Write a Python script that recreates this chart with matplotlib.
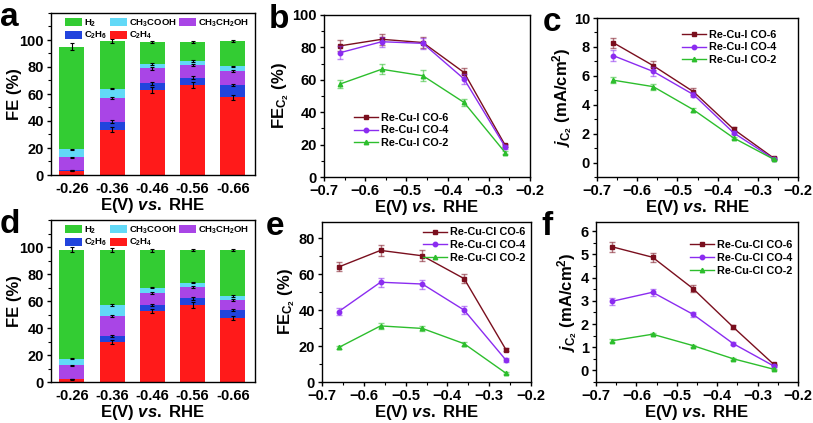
import matplotlib
matplotlib.use('Agg')
import matplotlib.pyplot as plt
import numpy as np
from matplotlib.ticker import MultipleLocator

plt.rcParams['font.family'] = ['Liberation Sans', 'DejaVu Sans']
plt.rcParams['font.weight'] = 'bold'
plt.rcParams['mathtext.fontset'] = 'custom'
plt.rcParams['mathtext.rm'] = 'Liberation Sans:bold'
plt.rcParams['mathtext.bf'] = 'Liberation Sans:bold'
plt.rcParams['mathtext.it'] = 'Liberation Sans:bold:italic'
plt.rcParams['mathtext.default'] = 'bf'

# ---- bar data (FE %, per product) ----
potentials = ['-0.26', '-0.36', '-0.46', '-0.56', '-0.66']
products = ['C$_2$H$_4$', 'C$_2$H$_6$', 'CH$_3$CH$_2$OH', 'CH$_3$COOH', 'H$_2$']

fe_a_c2h4 = [3.2, 33.5, 63.0, 66.7, 57.5]
fe_a_c2h6 = [0.2, 6.0, 5.0, 5.3, 9.2]
fe_a_etoh = [9.8, 17.5, 11.0, 9.5, 10.3]
fe_a_acoh = [5.8, 7.0, 3.5, 2.9, 3.5]
fe_a_h2 = [76.0, 35.0, 16.3, 14.2, 18.8]
err_a = [[0.5, 2.0, 2.0, 2.5, 2.0],
         [0.3, 1.0, 1.0, 1.0, 1.0],
         [0.5, 1.0, 1.0, 1.0, 0.8],
         [0.4, 0.5, 0.8, 0.8, 0.5],
         [2.5, 1.5, 0.8, 0.6, 1.0]]

fe_d_c2h4 = [2.0, 29.5, 52.7, 57.0, 47.5]
fe_d_c2h6 = [0.2, 4.5, 4.3, 5.0, 5.9]
fe_d_etoh = [10.1, 15.0, 9.0, 8.5, 7.6]
fe_d_acoh = [5.0, 8.0, 4.0, 3.0, 2.7]
fe_d_h2 = [80.7, 41.0, 27.5, 24.3, 34.1]
err_d = [[0.5, 1.5, 1.5, 2.0, 1.5],
         [0.3, 1.0, 1.0, 1.0, 1.0],
         [0.5, 0.8, 0.8, 0.8, 0.8],
         [0.4, 0.5, 0.5, 0.5, 0.5],
         [2.0, 1.5, 1.0, 1.0, 1.0]]

bar_colors = ['#FF1A1A', '#2244DD', '#A945E6', '#62D9F7', '#33CC33']

# ---- line data ----
volts = [-0.66, -0.56, -0.46, -0.36, -0.26]
names_i = ['Re-Cu-I CO-6', 'Re-Cu-I CO-4', 'Re-Cu-I CO-2']
names_cl = ['Re-Cu-Cl CO-6', 'Re-Cu-Cl CO-4', 'Re-Cu-Cl CO-2']

fe_i = [[81.0, 85.0, 83.0, 64.5, 19.5],
        [76.8, 83.5, 82.5, 60.5, 18.5],
        [57.5, 66.5, 62.5, 46.0, 15.0]]
fe_i_err = [[3.5, 3.5, 3.5, 3.0, 1.0],
            [4.0, 3.0, 3.5, 3.0, 1.0],
            [2.5, 3.0, 3.5, 2.0, 1.0]]
j_i = [[8.3, 6.7, 4.9, 2.3, 0.30],
       [7.4, 6.3, 4.7, 2.05, 0.25],
       [5.7, 5.25, 3.65, 1.7, 0.22]]
j_i_err = [[0.35, 0.3, 0.25, 0.15, 0.05],
           [0.4, 0.3, 0.2, 0.1, 0.05],
           [0.2, 0.2, 0.15, 0.1, 0.05]]
fe_cl = [[64.0, 73.2, 70.2, 57.5, 18.0],
         [39.2, 55.5, 54.5, 40.0, 12.2],
         [19.2, 31.2, 29.8, 21.3, 4.9]]
fe_cl_err = [[2.5, 3.0, 3.0, 2.5, 1.0],
             [2.0, 2.5, 2.5, 2.0, 1.0],
             [1.0, 1.5, 1.5, 1.0, 0.5]]
j_cl = [[5.33, 4.88, 3.53, 1.86, 0.26],
        [2.98, 3.37, 2.42, 1.15, 0.19],
        [1.28, 1.56, 1.07, 0.50, 0.05]]
j_cl_err = [[0.22, 0.2, 0.14, 0.08, 0.03],
            [0.15, 0.15, 0.1, 0.06, 0.03],
            [0.07, 0.05, 0.04, 0.03, 0.02]]

line_colors = ['#7A0F1E', '#8B2CF0', '#2DBE2D']
markers = ['s', 'o', '^']

W, H = 813, 423
fig = plt.figure(figsize=(W / 100, H / 100), dpi=100)


def box(l, t, r, b):
    return [l / W, 1 - b / H, (r - l) / W, (b - t) / H]


def style_axes(ax):
    for s in ax.spines.values():
        s.set_linewidth(1.0)
    ax.tick_params(which='major', direction='out', length=3, width=1, labelsize=10.5, pad=2)
    ax.tick_params(which='minor', direction='out', length=2, width=0.8)
    for lab in ax.get_xticklabels() + ax.get_yticklabels():
        lab.set_fontweight('bold')


def bar_panel(ax, series, errs, letter):
    x = np.arange(len(potentials))
    bottom = np.zeros(len(potentials))
    handles = []
    for vals, err, col, name in zip(series, errs, bar_colors, products):
        h = ax.bar(x, vals, 0.62, bottom=bottom, color=col, label=name)
        top = bottom + np.array(vals)
        ax.errorbar(x, top, yerr=err, fmt='none', ecolor='black', elinewidth=0.8,
                    capsize=1.5, capthick=0.8)
        bottom = top
        handles.append(h)
    ax.set_xlim(-0.52, 4.55)
    ax.set_ylim(0, 120)
    ax.set_yticks([0, 20, 40, 60, 80, 100])
    ax.yaxis.set_minor_locator(MultipleLocator(10))
    ax.set_xticks(x)
    ax.set_xticklabels(potentials)
    style_axes(ax)
    ax.tick_params(axis='x', which='both', length=0, pad=5)
    ax.set_ylabel('FE (%)', fontsize=12, fontweight='bold')
    ax.yaxis.set_label_coords(-0.14, 0.5)
    ax.set_xlabel('E(V) $\\mathit{vs.}$ RHE', fontsize=12, fontweight='bold', labelpad=0)
    # legend row order: H2, CH3COOH, CH3CH2OH / C2H6, C2H4
    order = [4, 1, 3, 0, 2]
    ax.legend([handles[i] for i in order], [products[i] for i in order], ncol=3,
              loc='upper left', bbox_to_anchor=(0.04, 1.01), frameon=False,
              fontsize=6.8, handlelength=1.8, handleheight=0.9, handletextpad=0.2,
              columnspacing=0.3, labelspacing=0.15, borderaxespad=0.2)
    ax.text(-0.25, 1.07, letter, transform=ax.transAxes, fontsize=24,
            fontweight='bold', va='top', ha='left')


def line_panel(ax, ys, errs, names, ylim, ystep, ylabel, lab_x, leg_anchor, letter):
    for y, e, col, mk, name in zip(ys, errs, line_colors, markers, names):
        ax.errorbar(volts, y, yerr=e, fmt='none', ecolor=col, alpha=0.55,
                    elinewidth=1.0, capsize=2.2, capthick=1.0)
        ax.plot(volts, y, color=col, lw=1.0, marker=mk, ms=3.2, label=name)
    ax.set_xlim(-0.7, -0.2)
    ax.set_ylim(*ylim)
    ax.set_xticks([-0.7, -0.6, -0.5, -0.4, -0.3, -0.2])
    ax.xaxis.set_minor_locator(MultipleLocator(0.05))
    ax.yaxis.set_major_locator(MultipleLocator(ystep))
    ax.yaxis.set_minor_locator(MultipleLocator(ystep / 2))
    style_axes(ax)
    ax.set_ylabel(ylabel, fontsize=12, fontweight='bold')
    ax.yaxis.set_label_coords(lab_x, 0.5)
    ax.set_xlabel('E(V) $\\mathit{vs.}$ RHE', fontsize=12, fontweight='bold', labelpad=0)
    ax.legend(loc=leg_anchor[0], bbox_to_anchor=leg_anchor[1], frameon=False,
              fontsize=7.8, handlelength=2.2, handletextpad=0.3, labelspacing=0.25,
              borderaxespad=0.1)
    ax.text(-0.27, 1.07, letter, transform=ax.transAxes, fontsize=24,
            fontweight='bold', va='top', ha='left')


ax_a = fig.add_axes(box(51, 13, 255, 175))
ax_b = fig.add_axes(box(324, 15, 530, 177))
ax_c = fig.add_axes(box(597, 18, 798, 177))
ax_d = fig.add_axes(box(51, 220, 255, 382))
ax_e = fig.add_axes(box(322, 222, 531, 382))
ax_f = fig.add_axes(box(596, 222, 798, 382))

bar_panel(ax_a, [fe_a_c2h4, fe_a_c2h6, fe_a_etoh, fe_a_acoh, fe_a_h2], err_a, 'a')
bar_panel(ax_d, [fe_d_c2h4, fe_d_c2h6, fe_d_etoh, fe_d_acoh, fe_d_h2], err_d, 'd')

fe_label = 'FE$_{C_2}$ (%)'
j_label = '$\\mathit{j}_{C_2}$ (mA/cm$^2$)'

line_panel(ax_b, fe_i, fe_i_err, names_i, (0, 100), 20, fe_label, -0.16,
           ('upper left', (0.12, 0.43)), 'b')
line_panel(ax_c, j_i, j_i_err, names_i, (-1, 10), 2, j_label, -0.11,
           ('upper right', (0.92, 0.96)), 'c')
line_panel(ax_e, fe_cl, fe_cl_err, names_cl, (0, 89), 20, fe_label, -0.12,
           ('upper right', (1.0, 1.0)), 'e')
line_panel(ax_f, j_cl, j_cl_err, names_cl, (-0.5, 6.4), 1, j_label, -0.08,
           ('upper right', (1.0, 0.92)), 'f')

fig.savefig('out.png', dpi=100)
